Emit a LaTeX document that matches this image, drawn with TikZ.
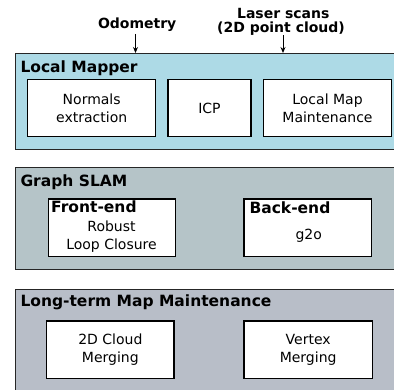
\documentclass[tikz,border=0pt]{standalone}
\usepackage{fontspec}
\setmainfont{DejaVu Sans}
\usetikzlibrary{arrows.meta}
\definecolor{lmblue}{HTML}{ADDAE6}
\definecolor{gsgray}{HTML}{B5C4C8}
\definecolor{ltgray}{HTML}{B8BEC8}
\newcommand\regfont{\fontsize{14}{17.8}\selectfont}
\newcommand\ttlfont{\fontsize{15.5}{18}\selectfont\bfseries}
\newcommand\labfont{\fontsize{14}{14.5}\selectfont\bfseries}
\tikzset{
  panel/.style={draw=black!85, line width=0.9pt, inner sep=0pt, anchor=north west},
  box/.style={draw=black, line width=1.2pt, fill=white, inner sep=0pt, align=center, font=\regfont},
  ttl/.style={anchor=base west, inner sep=0pt, font=\ttlfont},
  txt/.style={anchor=base, inner sep=0pt, font=\regfont},
  lab/.style={anchor=base, inner sep=0pt, font=\labfont, align=center},
  arr/.style={-{Stealth[length=6pt,width=5pt]}, line width=0.9pt}
}
\begin{document}
\begin{tikzpicture}[x=1pt,y=-1pt]
\useasboundingbox (0,0) rectangle (394,390);
\clip (0,0) rectangle (394,390);
\fill[white] (0,0) rectangle (394,390);
% panels
\node[panel, fill=lmblue, minimum width=390pt, minimum height=96.3pt] (lm) at (15,52.7) {};
\node[panel, fill=gsgray, minimum width=390pt, minimum height=102.2pt] (gs) at (15,167.3) {};
\node[panel, fill=ltgray, minimum width=390pt, minimum height=120pt] (lt) at (15,289) {};
% titles
\node[ttl] (lmt) at (20.3,73) {Local Mapper};
\node[ttl] (gst) at (20.3,186.7) {Graph SLAM};
\node[ttl] (ltt) at (20.3,306.7) {Long-term Map Maintenance};
% inputs
\node[lab] (odo) at (137.2,28.5) {Odometry};
\node[lab] (las1) at (283.3,18.5) {Laser scans};
\node[lab] (las2) at (281,33) {(2D point cloud)};
\coordinate (odoA) at (135.5,34);
\coordinate (odoB) at (135.5,53);
\coordinate (lasA) at (283,35.5);
\coordinate (lasB) at (283,53);
\draw[arr] (odoA) -- (odoB);
\draw[arr] (lasA) -- (lasB);
% local mapper boxes
\node[box, minimum width=128pt, minimum height=57.4pt] (ne) at (91.7,108) {Normals\\extraction};
\node[box, minimum width=83pt, minimum height=57.4pt] (icp) at (209.5,108) {ICP};
\node[box, minimum width=128.4pt, minimum height=57.4pt] (lmm) at (327.5,108) {Local Map\\Maintenance};
% graph slam boxes
\node[box, minimum width=127.4pt, minimum height=57.5pt] (fe) at (112,227.75) {};
\node[box, minimum width=127.7pt, minimum height=57.5pt] (be) at (307.85,227.75) {};
\node[ttl] (fet) at (51,213) {Front-end};
\node[txt] (fe1) at (111.5,231.7) {Robust};
\node[txt] (fe2) at (111.5,249.3) {Loop Closure};
\node[ttl] (bet) at (249.3,213.3) {Back-end};
\node[txt] (be1) at (308.7,240) {g2o};
% long-term boxes
\node[box, minimum width=127.3pt, minimum height=57.3pt] (cm) at (110.35,349.65) {2D Cloud\\Merging};
\node[box, minimum width=128.3pt, minimum height=57.3pt] (vm) at (308.15,349.65) {Vertex\\Merging};
\end{tikzpicture}
\end{document}
